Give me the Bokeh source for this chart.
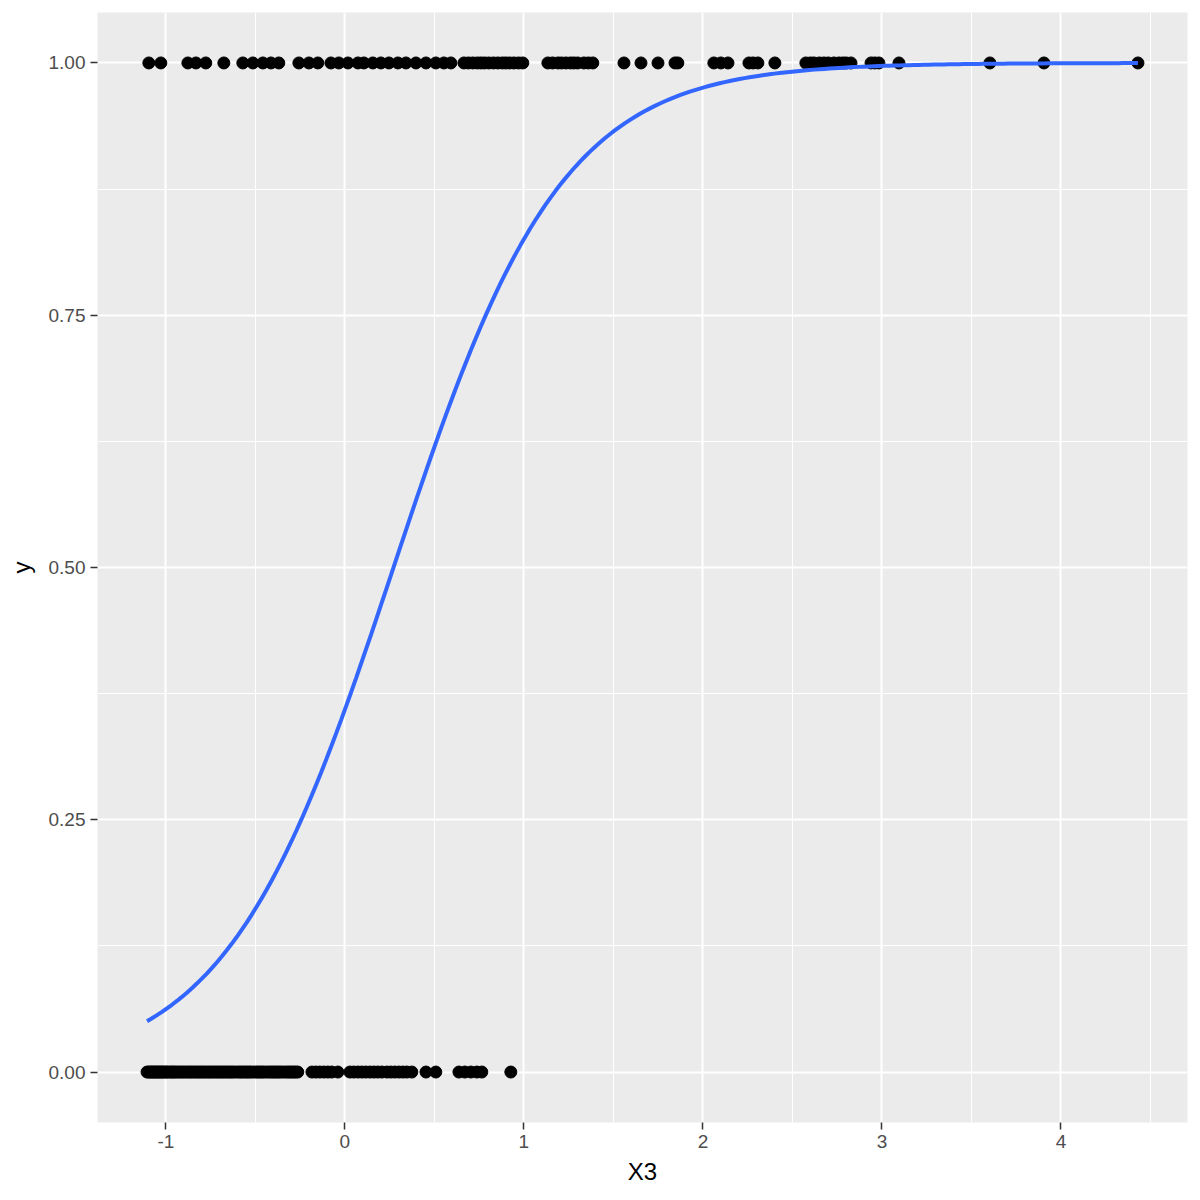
import numpy as np
from bokeh.plotting import figure
from bokeh.models import FixedTicker, PrintfTickFormatter, Range1d
from bokeh.embed import file_html
from bokeh.resources import INLINE

# Observed points with y = 1 (overlapping dots read as several points)
x_top = [-1.095, -1.028, -0.877, -0.832, -0.777, -0.676, -0.570, -0.514, -0.458, -0.413,
         -0.369, -0.257, -0.201, -0.151, -0.078, -0.034, 0.017, 0.073, 0.106, 0.156,
         0.201, 0.246, 0.296, 0.341, 0.397, 0.453, 0.508, 0.553, 0.592, 0.665,
         0.690, 0.715, 0.740, 0.760, 0.780, 0.804, 0.830, 0.855, 0.880, 0.899, 0.920,
         0.944, 0.970, 0.994, 1.134, 1.160, 1.190, 1.210, 1.235, 1.260, 1.279, 1.300,
         1.335, 1.360, 1.385, 1.559, 1.654, 1.749, 1.844, 1.860, 2.061,
         2.100, 2.140, 2.257, 2.280, 2.307, 2.402, 2.575, 2.600, 2.620, 2.650, 2.676,
         2.700, 2.732, 2.760, 2.782, 2.800, 2.827, 2.939, 2.960, 2.983, 3.095, 3.603,
         3.905, 4.430]
# Observed points with y = 0 (dense, overlapping row)
x_bot = [-1.105, -1.095, -1.086, -1.078, -1.070, -1.061, -1.053, -1.045, -1.036, -1.028,
         -1.020, -1.011, -1.002, -0.994, -0.983, -0.972, -0.963, -0.955, -0.944, -0.933,
         -0.922, -0.911, -0.900, -0.888, -0.877, -0.866, -0.855, -0.844, -0.832, -0.821,
         -0.810, -0.799, -0.788, -0.777, -0.765, -0.754, -0.743, -0.732, -0.720, -0.709,
         -0.698, -0.687, -0.676, -0.665, -0.653, -0.642, -0.631, -0.620, -0.606, -0.592,
         -0.581, -0.570, -0.558, -0.547, -0.536, -0.525, -0.511, -0.497, -0.486, -0.475,
         -0.464, -0.453, -0.439, -0.425, -0.413, -0.402, -0.391, -0.380, -0.369, -0.358,
         -0.344, -0.330, -0.318, -0.307, -0.296, -0.285, -0.274, -0.263, -0.184, -0.162,
         -0.140, -0.117, -0.095, -0.073, -0.039, 0.028, 0.050, 0.073, 0.095, 0.117,
         0.140, 0.162, 0.184, 0.207, 0.235, 0.257, 0.279, 0.302, 0.324, 0.346,
         0.374, 0.453, 0.508, 0.637, 0.670, 0.704, 0.737, 0.765, 0.927]

x_ticks = [-1, 0, 1, 2, 3, 4]
y_ticks = [0.0, 0.25, 0.5, 0.75, 1.0]

xs = np.array(x_top + x_bot, dtype=float)
ys = np.array([1.0] * len(x_top) + [0.0] * len(x_bot))

# logistic regression (glm, binomial) fit, as geom_smooth does
X = np.column_stack([np.ones_like(xs), xs])
b = np.zeros(2)
for _ in range(50):
    eta = X @ b
    pr = 1.0 / (1.0 + np.exp(-eta))
    w = np.clip(pr * (1 - pr), 1e-9, None)
    z = eta + (ys - pr) / w
    b = np.linalg.solve(X.T @ (X * w[:, None]), X.T @ (w * z))
xc = np.linspace(xs.min(), xs.max(), 200)
yc = 1.0 / (1.0 + np.exp(-(b[0] + b[1] * xc)))

xmin, xmax = xs.min(), xs.max()
pad = 0.05 * (xmax - xmin)

p = figure(width=1196, height=1196, output_backend="svg", toolbar_location=None,
           x_range=Range1d(xmin - pad, xmax + pad), y_range=Range1d(-0.05, 1.05),
           min_border_left=97, min_border_right=9, min_border_top=12, min_border_bottom=74)

p.background_fill_color = "#EBEBEB"
p.border_fill_color = "white"
p.outline_line_color = None

p.xaxis.ticker = FixedTicker(ticks=x_ticks, minor_ticks=[-1.5, -0.5, 0.5, 1.5, 2.5, 3.5, 4.5])
p.yaxis.ticker = FixedTicker(ticks=y_ticks, minor_ticks=[0.125, 0.375, 0.625, 0.875])
p.xaxis.formatter = PrintfTickFormatter(format="%d")
p.yaxis.formatter = PrintfTickFormatter(format="%.2f")

for g in (p.xgrid[0], p.ygrid[0]):
    g.grid_line_color = "white"
    g.grid_line_width = 2
    g.minor_grid_line_color = "white"
    g.minor_grid_line_width = 1

for ax in (p.xaxis[0], p.yaxis[0]):
    ax.axis_line_color = None
    ax.major_tick_line_color = "#333333"
    ax.major_tick_line_width = 1.5
    ax.major_tick_out = 7
    ax.major_tick_in = 0
    ax.minor_tick_line_color = None
    ax.major_label_text_color = "#4D4D4D"
    ax.major_label_text_font = "Liberation Sans"
    ax.major_label_text_font_size = "19px"
    ax.axis_label_text_font = "Liberation Sans"
    ax.axis_label_text_font_size = "24px"
    ax.axis_label_text_font_style = "normal"
    ax.axis_label_text_color = "black"
    ax.major_label_standoff = 5
    ax.axis_label_standoff = 7

p.yaxis[0].axis_label_standoff = 11

p.xaxis.axis_label = "X3"
p.yaxis.axis_label = "y"

p.scatter(xs, ys, size=12, color="black")
p.line(xc, yc, line_color="#3366FF", line_width=4)

open("out.html", "w").write(file_html(p, INLINE))
